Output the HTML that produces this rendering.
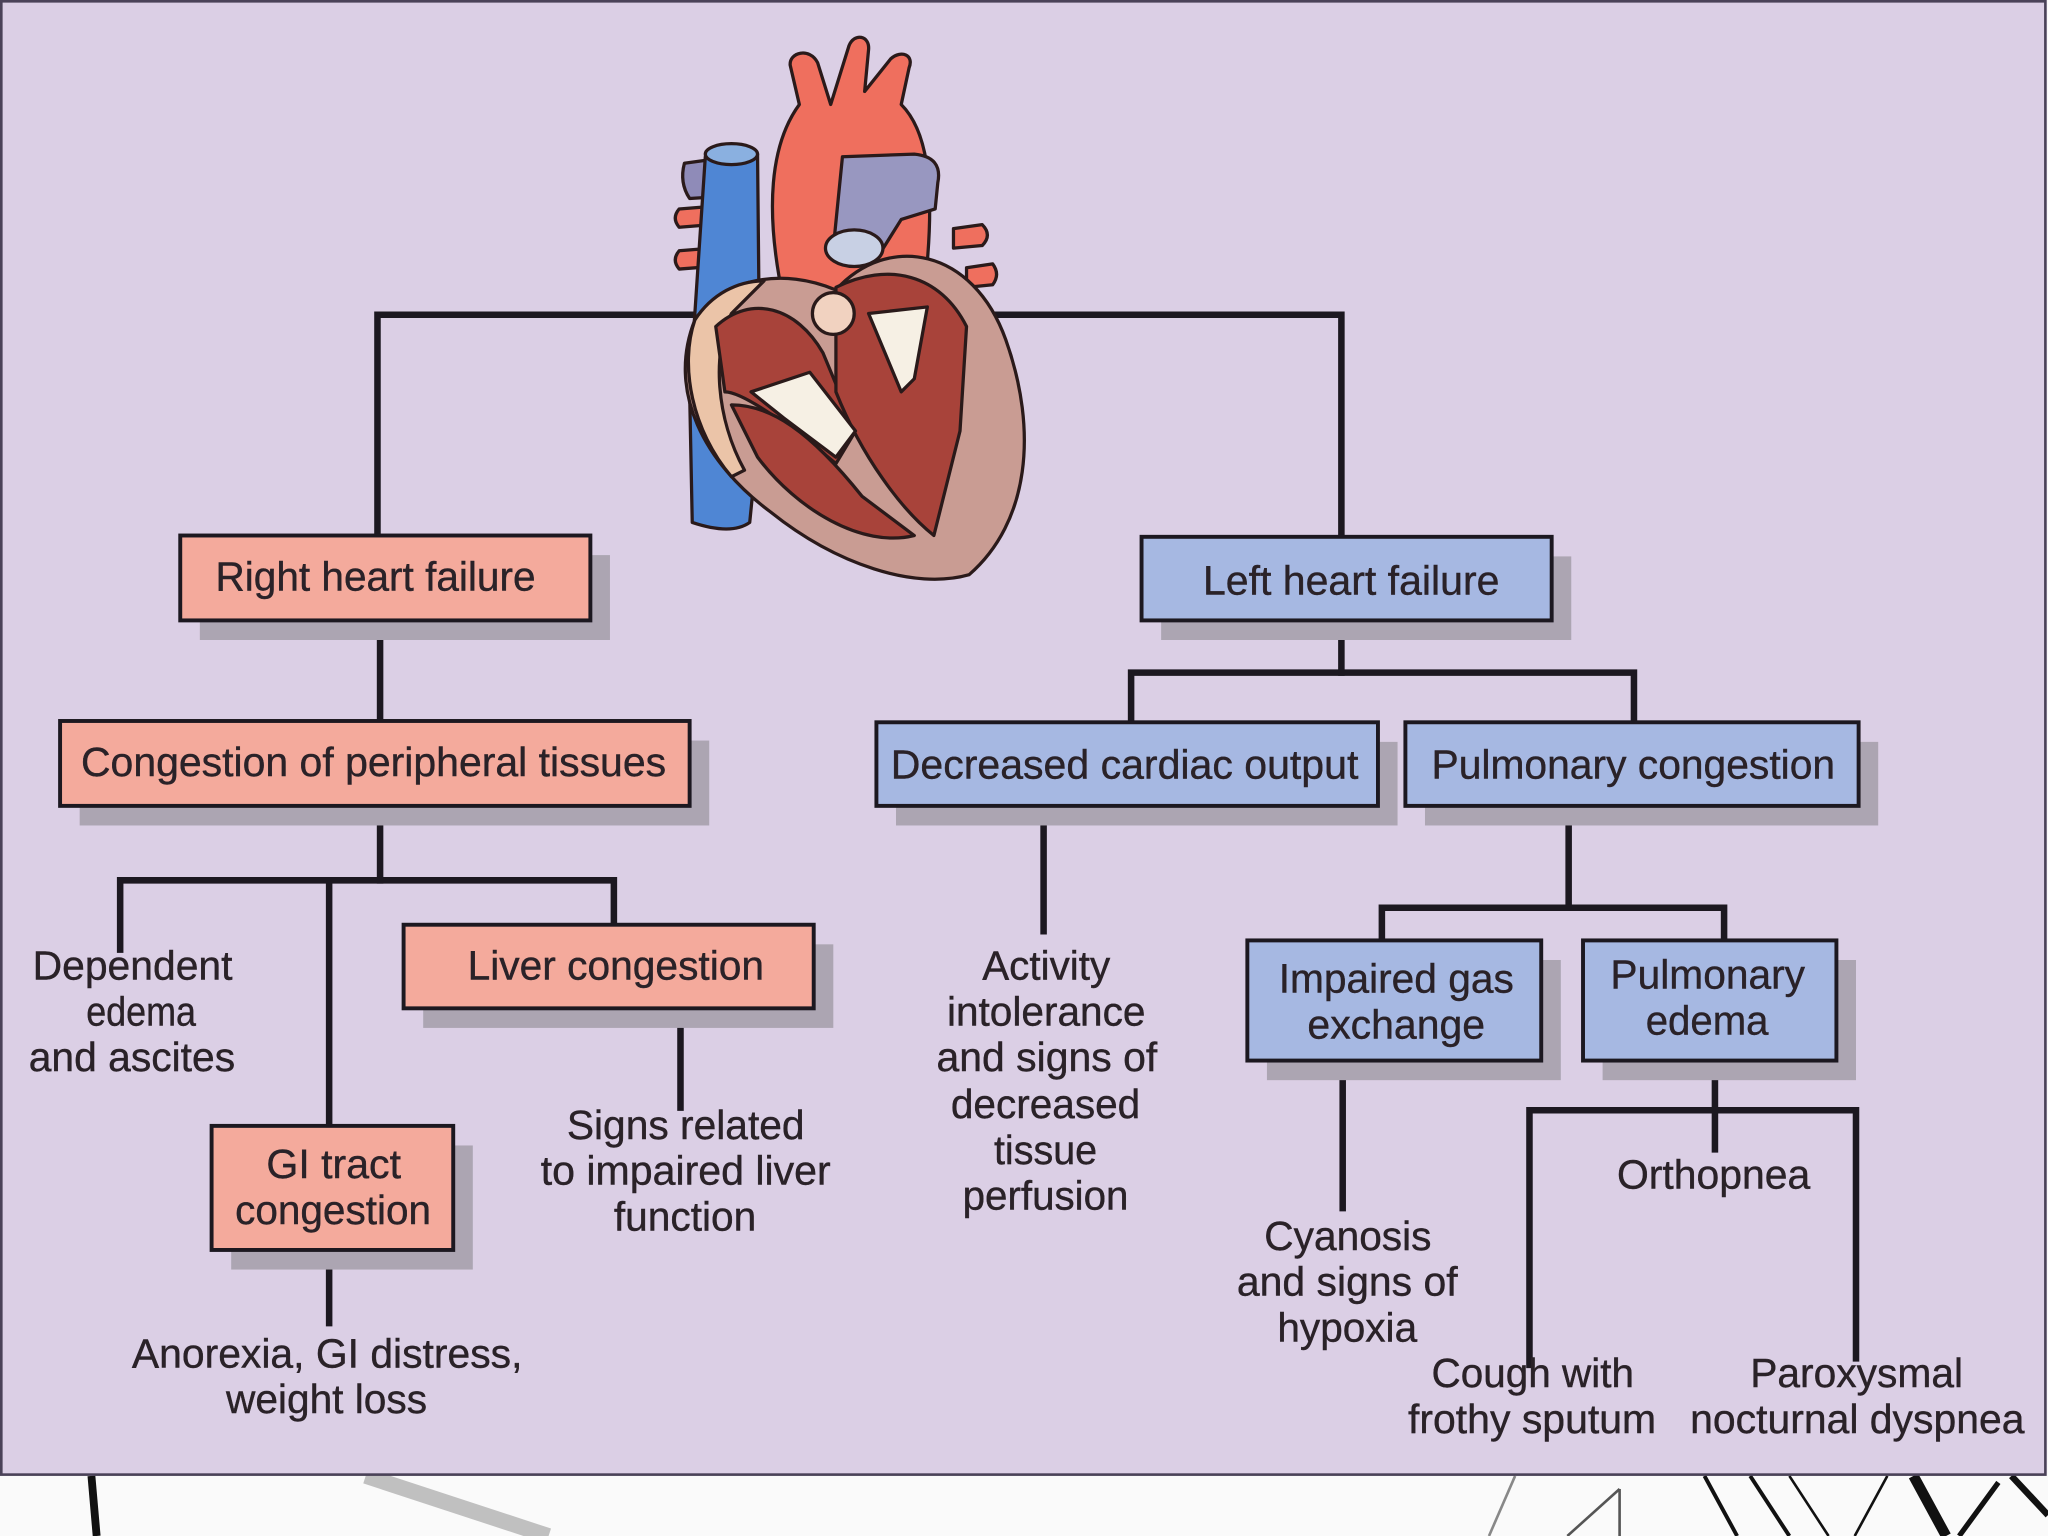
<!DOCTYPE html>
<html><head><meta charset="utf-8"><style>
html,body{margin:0;padding:0;background:#fff;}
svg{display:block;}
text{font-family:"Liberation Sans",Arial,sans-serif;font-size:31px;fill:#2a2228;stroke:#2a2228;stroke-width:0.3px;}
</style></head><body>
<svg width="2048" height="1536" viewBox="0 0 1568 1176" xmlns="http://www.w3.org/2000/svg">
<rect x="0" y="0" width="1568" height="1176" fill="#fafafa"/>
<g stroke="#111" fill="none">
<line x1="70" y1="1130" x2="74" y2="1176" stroke-width="6"/>
<line x1="280" y1="1130" x2="420" y2="1176" stroke="#999" stroke-width="12" opacity="0.6"/>
<line x1="1140" y1="1176" x2="1160" y2="1130" stroke="#888" stroke-width="2"/>
<line x1="1200" y1="1176" x2="1240" y2="1140" stroke="#555" stroke-width="2"/>
<line x1="1240" y1="1176" x2="1240" y2="1140" stroke="#555" stroke-width="2"/>
<line x1="1305" y1="1130" x2="1330" y2="1176" stroke-width="3"/>
<line x1="1340" y1="1130" x2="1370" y2="1176" stroke-width="3"/>
<line x1="1370" y1="1130" x2="1400" y2="1176" stroke-width="2"/>
<line x1="1420" y1="1176" x2="1445" y2="1130" stroke-width="2"/>
<line x1="1465" y1="1130" x2="1490" y2="1176" stroke-width="8"/>
<line x1="1500" y1="1176" x2="1530" y2="1135" stroke-width="4"/>
<line x1="1540" y1="1130" x2="1568" y2="1160" stroke-width="5"/>
</g>
<rect x="0" y="0" width="1567" height="1129" fill="#dbcfe5"/>
<rect x="1" y="1" width="1565" height="1128" fill="none" stroke="#4a4258" stroke-width="2"/>

<g stroke="#1c1820" stroke-width="5" fill="none" stroke-linecap="square">
<polyline points="289,410 289,241 530,241"/>
<polyline points="760,241 1027,241 1027,411"/>
<line x1="291" y1="475" x2="291" y2="552"/>
<line x1="291" y1="617" x2="291" y2="674"/>
<polyline points="92,727 92,674 470,674 470,708"/>
<line x1="252" y1="674" x2="252" y2="862"/>
<line x1="252" y1="957" x2="252" y2="1013"/>
<line x1="521" y1="772" x2="521" y2="848"/>
<line x1="1027" y1="475" x2="1027" y2="515"/>
<polyline points="866,553 866,515 1251,515 1251,553"/>
<line x1="799" y1="617" x2="799" y2="713"/>
<line x1="1201" y1="617" x2="1201" y2="695"/>
<polyline points="1058,720 1058,695 1320,695 1320,720"/>
<line x1="1028" y1="812" x2="1028" y2="925"/>
<line x1="1313" y1="812" x2="1313" y2="880"/>
<polyline points="1171,1045 1171,850 1421,850 1421,1040"/>
</g>

<g fill="#aca5b2">
<rect x="153" y="425" width="314" height="65"/>
<rect x="61" y="567" width="482" height="65"/>
<rect x="324" y="723" width="314" height="64"/>
<rect x="177" y="877" width="185" height="95"/>
<rect x="889" y="426" width="314" height="64"/>
<rect x="686" y="568" width="384" height="64"/>
<rect x="1091" y="568" width="347" height="64"/>
<rect x="970" y="735" width="225" height="92"/>
<rect x="1227" y="735" width="194" height="92"/>
</g>
<g stroke="#1c1820" stroke-width="3">
<rect x="138" y="410" width="314" height="65" fill="#f4aa9c"/>
<rect x="46" y="552" width="482" height="65" fill="#f4aa9c"/>
<rect x="309" y="708" width="314" height="64" fill="#f4aa9c"/>
<rect x="162" y="862" width="185" height="95" fill="#f4aa9c"/>
<rect x="874" y="411" width="314" height="64" fill="#a6b8e2"/>
<rect x="671" y="553" width="384" height="64" fill="#a6b8e2"/>
<rect x="1076" y="553" width="347" height="64" fill="#a6b8e2"/>
<rect x="955" y="720" width="225" height="92" fill="#a6b8e2"/>
<rect x="1212" y="720" width="194" height="92" fill="#a6b8e2"/>
</g>

<!-- heart -->
<g stroke="#2a1a1a" stroke-width="2.5" stroke-linejoin="round">
<path d="M600,230 C585,160 590,110 612,80 L605,50 C604,40 620,36 626,48 L636,80 L650,35 C654,25 666,27 665,38 L662,70 L682,45 C690,38 700,42 696,52 L690,80 C710,100 715,140 710,200 L700,240 Z" fill="#ef6f5e"/>
<path d="M520,160 L545,158 L545,172 L520,174 Q514,167 520,160 Z" fill="#ef6f5e"/>
<path d="M520,192 L545,190 L545,204 L520,206 Q514,199 520,192 Z" fill="#ef6f5e"/>
<path d="M730,175 L752,172 Q760,180 752,188 L730,190 Z" fill="#ef6f5e"/>
<path d="M740,205 L760,202 Q766,210 760,218 L740,220 Z" fill="#ef6f5e"/>
<path d="M524,125 L560,120 L560,150 L528,152 Q520,140 524,125 Z" fill="#8f8bb8"/>
<path d="M540,120 Q560,108 580,118 L582,320 L574,400 Q560,410 530,400 L528,300 Z" fill="#4f86d4"/>
<ellipse cx="560" cy="118" rx="20" ry="8" fill="#8ab0e0"/>
<path d="M645,120 L700,118 Q722,120 718,140 L716,160 L690,168 L670,200 L638,190 Z" fill="#9897c0"/>
<ellipse cx="654" cy="190" rx="22" ry="14" fill="#c8d0e4"/>
<path d="M532,245 C555,212 600,205 640,222 C680,178 745,190 770,260 C795,330 788,400 742,440 C700,452 640,432 590,392 C540,355 510,300 532,245 Z" fill="#c99c93"/>
<path d="M532,245 C545,225 565,215 585,215 L560,240 C545,270 548,320 570,360 L560,365 C530,330 520,280 532,245 Z" fill="#ebc4a8"/>
<path d="M548,250 C575,225 610,235 630,270 L655,330 L640,355 C610,330 570,300 555,300 Z" fill="#a8433a"/>
<path d="M560,310 C590,310 620,330 660,380 L700,410 C660,420 610,390 580,350 Z" fill="#a8433a"/>
<path d="M640,220 C680,200 720,210 740,250 L735,330 L715,410 C690,390 660,350 640,300 Z" fill="#a8433a"/>
<path d="M575,300 L620,285 L655,330 L640,350 L600,320 Z" fill="#f6f0e4"/>
<path d="M665,240 L710,235 L700,290 L690,300 Z" fill="#f6f0e4"/>
<ellipse cx="638" cy="240" rx="16" ry="16" fill="#f1d2c0"/>
</g>

<g text-anchor="start">
<text x="165" y="452" textLength="245" lengthAdjust="spacingAndGlyphs">Right heart failure</text>
<text x="921" y="455" textLength="227" lengthAdjust="spacingAndGlyphs">Left heart failure</text>
<text x="62" y="594" textLength="448" lengthAdjust="spacingAndGlyphs">Congestion of peripheral tissues</text>
<text x="682" y="596" textLength="358" lengthAdjust="spacingAndGlyphs">Decreased cardiac output</text>
<text x="1096" y="596" textLength="309" lengthAdjust="spacingAndGlyphs">Pulmonary congestion</text>
<text x="358" y="750" textLength="227" lengthAdjust="spacingAndGlyphs">Liver congestion</text>
<text x="25" y="750" textLength="153" lengthAdjust="spacingAndGlyphs">Dependent</text>
<text x="66" y="785" textLength="84" lengthAdjust="spacingAndGlyphs">edema</text>
<text x="22" y="820" textLength="158" lengthAdjust="spacingAndGlyphs">and ascites</text>
<text x="752" y="750" textLength="98" lengthAdjust="spacingAndGlyphs">Activity</text>
<text x="725" y="785" textLength="152" lengthAdjust="spacingAndGlyphs">intolerance</text>
<text x="717" y="820" textLength="169" lengthAdjust="spacingAndGlyphs">and signs of</text>
<text x="728" y="856" textLength="145" lengthAdjust="spacingAndGlyphs">decreased</text>
<text x="761" y="891" textLength="79" lengthAdjust="spacingAndGlyphs">tissue</text>
<text x="737" y="926" textLength="127" lengthAdjust="spacingAndGlyphs">perfusion</text>
<text x="979" y="760" textLength="180" lengthAdjust="spacingAndGlyphs">Impaired gas</text>
<text x="1001" y="795" textLength="136" lengthAdjust="spacingAndGlyphs">exchange</text>
<text x="1233" y="757" textLength="149" lengthAdjust="spacingAndGlyphs">Pulmonary</text>
<text x="1260" y="792" textLength="94" lengthAdjust="spacingAndGlyphs">edema</text>
<text x="434" y="872" textLength="182" lengthAdjust="spacingAndGlyphs">Signs related</text>
<text x="414" y="907" textLength="222" lengthAdjust="spacingAndGlyphs">to impaired liver</text>
<text x="470" y="942" textLength="109" lengthAdjust="spacingAndGlyphs">function</text>
<text x="204" y="902" textLength="103" lengthAdjust="spacingAndGlyphs">GI tract</text>
<text x="180" y="937" textLength="150" lengthAdjust="spacingAndGlyphs">congestion</text>
<text x="1238" y="910" textLength="148" lengthAdjust="spacingAndGlyphs">Orthopnea</text>
<text x="968" y="957" textLength="128" lengthAdjust="spacingAndGlyphs">Cyanosis</text>
<text x="947" y="992" textLength="169" lengthAdjust="spacingAndGlyphs">and signs of</text>
<text x="978" y="1027" textLength="107" lengthAdjust="spacingAndGlyphs">hypoxia</text>
<text x="101" y="1047" textLength="299" lengthAdjust="spacingAndGlyphs">Anorexia, GI distress,</text>
<text x="173" y="1082" textLength="154" lengthAdjust="spacingAndGlyphs">weight loss</text>
<text x="1096" y="1062" textLength="155" lengthAdjust="spacingAndGlyphs">Cough with</text>
<text x="1078" y="1097" textLength="190" lengthAdjust="spacingAndGlyphs">frothy sputum</text>
<text x="1340" y="1062" textLength="163" lengthAdjust="spacingAndGlyphs">Paroxysmal</text>
<text x="1294" y="1097" textLength="256" lengthAdjust="spacingAndGlyphs">nocturnal dyspnea</text>
</g>
</svg>
</body></html>
